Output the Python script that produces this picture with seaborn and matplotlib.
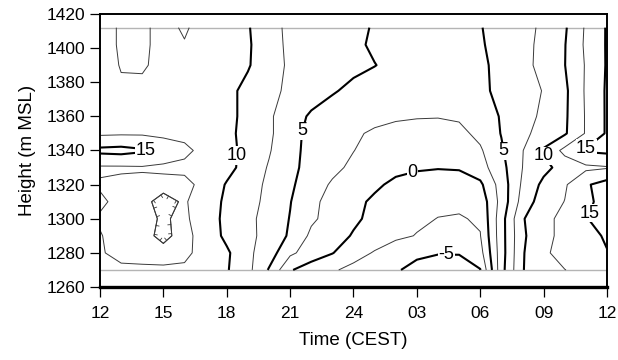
import numpy as np
import matplotlib
matplotlib.use("Agg")
import matplotlib.pyplot as plt
import matplotlib.patheffects as pe
import seaborn as sns

# ---- data (temperature-like field) ----
hours = [12, 13, 14, 15, 16, 17, 18, 19, 20, 21, 22, 23, 24, 25, 26, 27, 28, 29, 30, 31, 32, 33, 34, 35, 36]
heights = [1270, 1280, 1290, 1300, 1310, 1320, 1330, 1340, 1350, 1360, 1375, 1390, 1402, 1412]

t_1270 = [12.0, 12.1, 12.2, 12.3, 12.2, 11.3, 10.2, 8.2, 4.8, 0.2, -1.2, -2.2, -3.2, -4.0, -4.8, -5.6, -5.9, -5.8, -5.1, 4.1, 9.9, 11.4, 12.45, 13.3, 14.0]
t_1280 = [12.3, 13.1, 13.1, 13.0, 12.9, 11.8, 10.4, 8.0, 6.2, 3.0, 1.3, 0.1, -1.5, -2.7, -3.9, -4.6, -4.9, -4.9, -3.4, 3.9, 9.8, 12.0, 13.6, 14.3, 14.9]
t_1290 = [12.4, 13.2, 13.0, 12.1, 13.1, 11.6, 9.4, 8.3, 6.4, 4.7, 2.0, 1.0, -0.2, -1.2, -2.0, -2.6, -3.2, -3.3, -2.6, 4.0, 9.6, 11.8, 13.2, 14.2, 15.3]
t_1300 = [12.7, 13.1, 13.0, 12.3, 12.9, 11.2, 9.4, 8.1, 6.6, 4.9, 2.9, 1.6, 0.4, -0.6, -1.5, -2.1, -2.55, -2.7, -2.2, 4.0, 9.8, 11.8, 13.2, 14.9, 15.8]
t_1310 = [12.2, 13.0, 12.9, 12.0, 12.7, 11.4, 9.5, 8.3, 6.9, 5.1, 3.0, 1.8, 0.6, -0.4, -1.2, -1.7, -2.0, -2.0, -1.6, 3.4, 8.5, 11.3, 12.55, 14.4, 16.0]
t_1320 = [12.7, 13.0, 13.0, 13.0, 13.1, 11.8, 9.8, 8.6, 7.0, 5.4, 3.7, 2.2, 1.2, 0.4, -0.5, -0.9, -1.0, -0.8, -0.5, 3.6, 7.9, 10.6, 12.2, 14.7, 16.0]
t_1330 = [12.2, 12.2, 12.3, 12.2, 12.0, 11.4, 10.8, 9.0, 7.3, 5.6, 4.2, 3.1, 2.0, 1.2, 0.6, 0.25, 0.1, 0.15, 1.5, 4.2, 7.5, 9.3, 11.0, 12.0, 12.3]
t_1340 = [15.6, 15.8, 15.3, 13.6, 13.0, 11.8, 10.7, 9.3, 7.7, 5.7, 4.3, 3.3, 2.55, 1.6, 1.0, 0.8, 0.8, 1.0, 2.2, 4.7, 7.4, 10.3, 13.2, 15.3, 15.6]
t_1350 = [12.1, 12.2, 12.2, 12.1, 11.9, 11.3, 10.6, 9.2, 7.9, 6.0, 4.2, 3.4, 2.8, 2.2, 1.8, 1.6, 1.6, 1.9, 3.1, 5.1, 7.0, 8.3, 9.7, 12.7, 15.3]
t_1360 = [11.8, 12.1, 12.2, 12.0, 11.8, 11.3, 10.7, 9.3, 7.9, 6.0, 4.7, 4.0, 3.5, 3.1, 2.8, 2.65, 2.6, 2.8, 3.6, 5.2, 6.5, 8.0, 9.6, 12.7, 15.3]
t_1375 = [11.2, 12.0, 12.1, 11.8, 11.5, 11.2, 10.6, 9.4, 8.3, 6.9, 6.0, 5.2, 4.5, 4.1, 3.8, 3.6, 3.5, 3.7, 4.4, 5.7, 6.6, 7.6, 9.5, 12.8, 15.3]
t_1390 = [10.9, 12.7, 12.7, 12.0, 11.9, 11.5, 10.9, 10.2, 8.6, 7.1, 6.3, 5.7, 5.5, 5.05, 4.5, 4.0, 3.9, 4.1, 4.6, 5.6, 6.8, 8.2, 9.95, 12.7, 15.2]
t_1402 = [10.8, 13.0, 12.8, 12.0, 12.4, 11.7, 11.0, 10.3, 8.5, 7.0, 6.3, 5.8, 5.4, 4.7, 4.3, 4.1, 4.1, 4.3, 4.8, 5.7, 6.8, 8.1, 9.9, 12.9, 15.2]
t_1412 = [10.8, 13.0, 12.8, 12.0, 12.7, 11.8, 11.0, 10.2, 8.3, 7.0, 6.4, 5.8, 5.3, 4.9, 4.5, 4.3, 4.3, 4.5, 4.9, 5.8, 6.8, 7.9, 9.7, 12.8, 15.2]

bold_levels = [-5, 0, 5, 10, 15]
thin_levels = [-2.5, 2.5, 7.5, 12.5]

tick_hours = [12, 15, 18, 21, 24, 27, 30, 33, 36]
tick_labels = ["12", "15", "18", "21", "24", "03", "06", "09", "12"]
height_ticks = [1260, 1280, 1300, 1320, 1340, 1360, 1380, 1400, 1420]

# label anchor spots (snapped to the nearest bold contour)
label_spots = [(14.3, 1340), (18.6, 1337), (21.45, 1352), (26.8, 1327),
               (28.4, 1277), (31.3, 1340), (32.8, 1336), (34.95, 1342), (35.0, 1304)]

Z = np.array([t_1270, t_1280, t_1290, t_1300, t_1310, t_1320, t_1330,
              t_1340, t_1350, t_1360, t_1375, t_1390, t_1402, t_1412])
X = np.array(hours, dtype=float)
Y = np.array(heights, dtype=float)

# ---- style ----
sns.set_theme(style="ticks")
plt.rcParams["font.family"] = ["Liberation Sans", "DejaVu Sans"]
plt.rcParams["contour.negative_linestyle"] = "solid"

fig = plt.figure(figsize=(6.18, 3.6), dpi=100)
ax = fig.add_axes([0.1618, 0.2028, 0.8204, 0.7583])

cs_thin = ax.contour(X, Y, Z, levels=thin_levels, colors="#3a3a3a", linewidths=0.7,
                     linestyles="solid")
cs_bold = ax.contour(X, Y, Z, levels=bold_levels, colors="black", linewidths=1.5,
                     linestyles="solid")

# ticked stroke on closed contours that enclose lower values (depressions)
for lev, segs in zip(cs_thin.levels, cs_thin.allsegs):
    for seg in segs:
        if len(seg) < 4:
            continue
        if np.hypot(*(seg[0] - seg[-1])) > 1e-6:
            continue
        cx, cy = seg[:, 0].mean(), seg[:, 1].mean()
        i = int(np.argmin(np.abs(Y - cy)))
        j = int(np.argmin(np.abs(X - cx)))
        if Z[i, j] >= lev:
            continue
        xs, ys = seg[:, 0], seg[:, 1]
        area = 0.5 * np.sum(xs[:-1] * ys[1:] - xs[1:] * ys[:-1])
        ang = 90 if area > 0 else -90
        ax.plot(xs, ys, color="#3a3a3a", lw=0.7,
                path_effects=[pe.withTickedStroke(angle=ang, spacing=6.5, length=0.35,
                                                  linewidth=0.6)])

labels = ax.clabel(cs_bold, fmt="%g", fontsize=13, inline=False, manual=label_spots,
                   colors="black")
for t in labels:
    t.set_rotation(0)
    t.set_bbox(dict(facecolor="white", edgecolor="none", pad=0.4))

# gray boundary lines at the data limits
ax.axhline(heights[0], color="#b4b4b4", lw=1.0, zorder=1)
ax.axhline(heights[-1], color="#b4b4b4", lw=1.0, zorder=1)

ax.set_xlim(12, 36)
ax.set_ylim(1260, 1420)
ax.set_xticks(tick_hours)
ax.set_xticklabels(tick_labels)
ax.set_yticks(height_ticks)
ax.tick_params(direction="out", length=7.5, width=0.9, labelsize=12.5, color="black",
               labelcolor="black")
ax.tick_params(axis="x", pad=6)
ax.tick_params(axis="y", pad=3)
for s in ["left", "right", "top"]:
    ax.spines[s].set_visible(True)
    ax.spines[s].set_color("black")
    ax.spines[s].set_linewidth(1.4)
ax.spines["bottom"].set_color("black")
ax.spines["bottom"].set_linewidth(2.4)
ax.set_xlabel("Time (CEST)", fontsize=13.5, color="black", labelpad=8)
ax.set_ylabel("Height (m MSL)", fontsize=13.5, color="black", labelpad=8)

fig.savefig("out.png", dpi=100)
